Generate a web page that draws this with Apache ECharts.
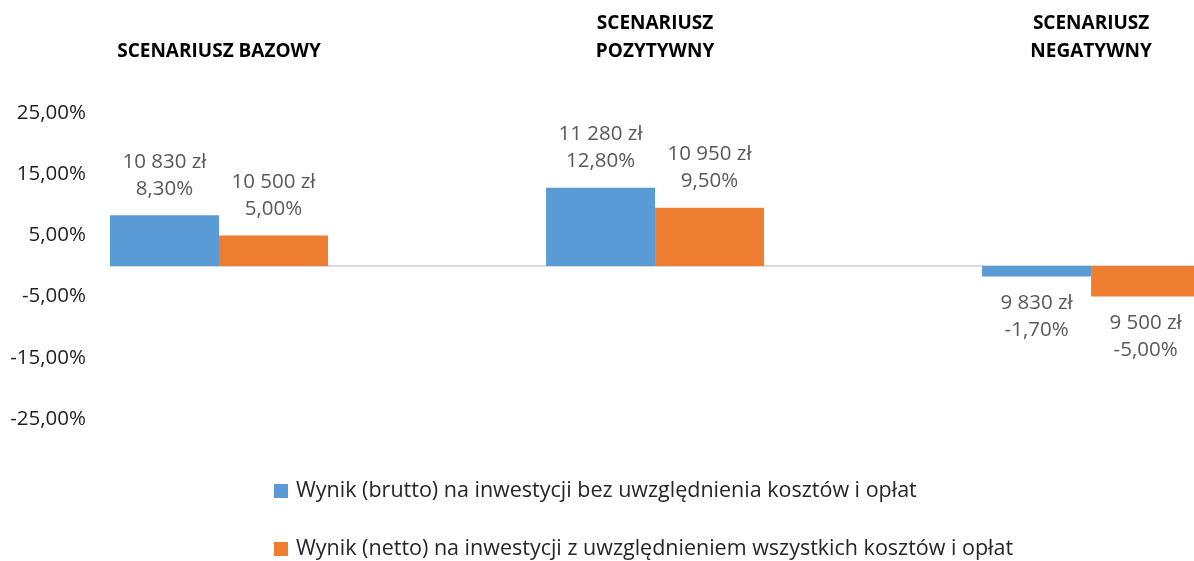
<!DOCTYPE html>
<html>
<head>
<meta charset="utf-8">
<script src="https://cdn.jsdelivr.net/npm/echarts@6/dist/echarts.min.js"></script>
<style>
  html, body { margin: 0; padding: 0; background: #fff; }
  #mainChart { width: 1194px; height: 561px; }
</style>
</head>
<body>
<div id="mainChart"></div>
<script>
// dane z wykresu
var categories = ['SCENARIUSZ BAZOWY', 'SCENARIUSZ\nPOZYTYWNY', 'SCENARIUSZ\nNEGATYWNY']
var seriesNames = [
  'Wynik (brutto) na inwestycji bez uwzględnienia kosztów i opłat',
  'Wynik (netto) na inwestycji z uwzględnieniem wszystkich kosztów i opłat'
]
var bruttoPct = [8.3, 12.8, -1.7]
var nettoPct = [5.0, 9.5, -5.0]
var bruttoPln = [10830, 11280, 9830]
var nettoPln = [10500, 10950, 9500]

var fontFamily = '"Open Sans", "Noto Sans", sans-serif'

function pln (v) {
  return String(v).replace(/\B(?=(\d{3})+(?!\d))/g, ' ') + ' zł'
}
function pct (v) {
  return v.toFixed(2).replace('.', ',') + '%'
}

function buildData (pcts, amounts) {
  let out = []
  pcts.forEach((v, i) => {
    out.push({
      value: [i, v],
      amount: amounts[i],
      label: { position: v < 0 ? 'bottom' : 'top' }
    })
  })
  return out
}

var labelStyle = {
  show: true,
  distance: 13,
  color: '#595959',
  fontSize: 20.5,
  lineHeight: 27,
  fontFamily: fontFamily,
  formatter: function (p) {
    return pln(p.data.amount) + '\n' + pct(p.data.value[1])
  }
}

var chart = echarts.init(document.getElementById('mainChart'))
var option = {
  animation: false,
  backgroundColor: '#fff',
  grid: { left: 110, right: 0, top: 113, bottom: 142 },
  legend: {
    orient: 'vertical',
    left: 274,
    top: 480,
    height: 81,
    padding: 0,
    itemWidth: 14,
    itemHeight: 14,
    itemGap: 36,
    icon: 'rect',
    textStyle: { color: '#262626', fontSize: 21.5, lineHeight: 22, fontFamily: fontFamily, padding: [0, 0, 0, 3] },
    data: seriesNames
  },
  xAxis: [
    {
      type: 'value',
      min: -0.25,
      max: 2.236,
      axisLine: { show: true, onZero: true, lineStyle: { color: '#d9d9d9', width: 2 } },
      axisTick: { show: false },
      axisLabel: { show: false },
      splitLine: { show: false }
    },
    {
      type: 'value',
      position: 'top',
      min: -0.25,
      max: 2.236,
      axisLine: { show: false, onZero: false },
      axisTick: { show: false },
      splitLine: { show: false },
      axisLabel: {
        customValues: [0, 1, 2],
        margin: 47,
        color: '#000',
        fontWeight: 'bold',
        fontSize: 19,
        lineHeight: 28,
        fontFamily: fontFamily,
        formatter: function (v) { return categories[Math.round(v)] }
      }
    }
  ],
  yAxis: {
    type: 'value',
    min: -25,
    max: 25,
    interval: 10,
    axisLine: { show: false },
    axisTick: { show: false },
    splitLine: { show: false },
    axisLabel: {
      margin: 24,
      color: '#1f1f1f',
      fontSize: 20.5,
      fontFamily: fontFamily,
      formatter: function (v) { return pct(v) }
    }
  },
  series: [
    {
      name: seriesNames[0],
      type: 'bar',
      xAxisIndex: 0,
      barWidth: 109,
      barGap: '0%',
      itemStyle: { color: '#5b9bd5' },
      label: labelStyle,
      data: buildData(bruttoPct, bruttoPln)
    },
    {
      name: seriesNames[1],
      type: 'bar',
      xAxisIndex: 0,
      barWidth: 109,
      barGap: '0%',
      itemStyle: { color: '#ed7d31' },
      label: labelStyle,
      data: buildData(nettoPct, nettoPln)
    }
  ]
}
chart.setOption(option)
</script>
</body>
</html>
